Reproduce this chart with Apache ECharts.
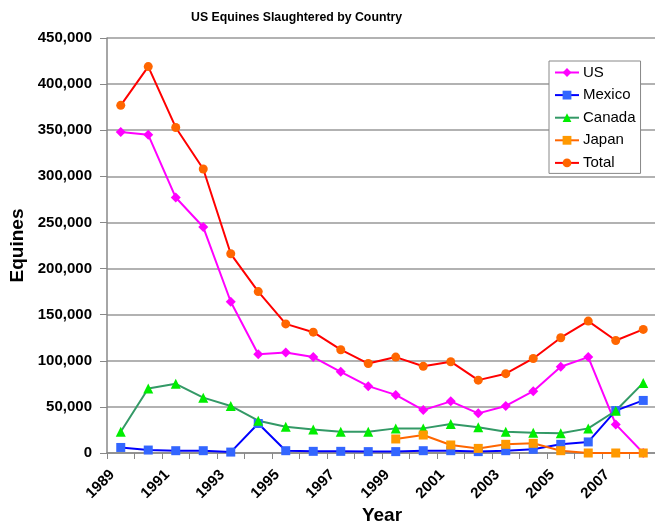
<!DOCTYPE html>
<html><head><meta charset="utf-8">
<script src="https://cdn.jsdelivr.net/npm/echarts@6/dist/echarts.min.js"></script>
<style>html,body{margin:0;padding:0;background:#fff}#c{width:655px;height:523px}</style>
</head><body><div id="c"></div>
<script>
const years = ['1989','1990','1991','1992','1993','1994','1995','1996','1997','1998','1999','2000','2001','2002','2003','2004','2005','2006','2007','2008'];
const us     = [348000,345000,277000,245000,164000,107000,109000,104000,88000,72500,63000,46500,56000,43000,51000,67000,93500,104000,31000,0];
const mexico = [6000,3200,2500,2500,1000,32000,2500,1800,1800,1500,1500,2500,2500,1500,2500,4000,9400,12000,46000,57000];
const canada = [23000,70000,75000,60000,51000,35000,28500,25600,23000,23000,26700,26700,31400,27800,23000,22000,21300,26700,45800,76000];
const japan  = [null,null,null,null,null,null,null,null,null,null,15200,19500,8700,5000,9400,10500,2500,0,0,0];
const total  = [377000,419000,353000,308000,216000,175000,140000,131000,112000,97000,104000,94000,99000,79000,86000,102500,125000,143000,122000,134000];

const chart = echarts.init(document.getElementById('c'));
const F = 'Arial, "Liberation Sans", sans-serif';
function ser(name, data, lineColor, markColor, symbol, size){
  return {name, type:'line', data, symbol, symbolSize:size, showSymbol:true,
    lineStyle:{color:lineColor, width:2}, itemStyle:{color:markColor},
    emphasis:{disabled:true}, animation:false, connectNulls:false};
}
chart.setOption({
  animation:false,
  title:{text:'US Equines Slaughtered by Country', left:191, top:12, padding:0,
    textStyle:{fontFamily:F, fontSize:12.3, fontWeight:'bold', color:'#000'}},
  legend:{left:549, top:61, orient:'vertical', itemGap:7.6, itemWidth:24, itemHeight:11,
    borderColor:'#888', borderWidth:1, padding:[4,5,3,5], backgroundColor:'#fff',
    textStyle:{fontFamily:F, fontSize:15, lineHeight:15, color:'#000', padding:[0,0,0,-1]},
    data:['US','Mexico','Canada','Japan','Total']},
  grid:{left:107, right:-2, top:38, bottom:70, containLabel:false, outerBoundsMode:'none'},
  xAxis:{type:'category', data:years, boundaryGap:true,
    name:'Year', nameLocation:'middle', nameGap:53, nameMoveOverlap:false,
    nameTextStyle:{fontFamily:F, fontSize:19, fontWeight:'bold', color:'#000'},
    axisLine:{lineStyle:{color:'#888', width:1.5}},
    axisTick:{show:true, alignWithLabel:false, interval:0, length:6, lineStyle:{color:'#888'}},
    axisLabel:{interval:1, rotate:45, margin:11, padding:[0,12,0,0], fontFamily:F, fontSize:15, fontWeight:'bold', color:'#000'}},
  yAxis:{type:'value', min:0, max:450000, interval:50000,
    name:'Equines', nameLocation:'middle', nameGap:80, nameRotate:90, nameMoveOverlap:false,
    nameTextStyle:{fontFamily:F, fontSize:19, fontWeight:'bold', color:'#000'},
    axisLine:{show:true, lineStyle:{color:'#888', width:1.5}},
    axisTick:{show:true, length:7, lineStyle:{color:'#888'}},
    axisLabel:{margin:15, fontFamily:F, fontSize:15, fontWeight:'bold', color:'#000',
      formatter:v=>v.toLocaleString('en-US')},
    splitLine:{lineStyle:{color:'#999', width:1.5}}},
  series:[
    ser('US', us, '#FF00FF', '#FF00FF', 'diamond', 10),
    ser('Mexico', mexico, '#0000FF', '#3366FF', 'rect', 9),
    ser('Canada', canada, '#339966', '#00EE00', 'triangle', 10),
    ser('Japan', japan, '#FF6600', '#FF9900', 'rect', 9),
    ser('Total', total, '#FF0000', '#FF6600', 'circle', 9)
  ]
});
</script></body></html>
